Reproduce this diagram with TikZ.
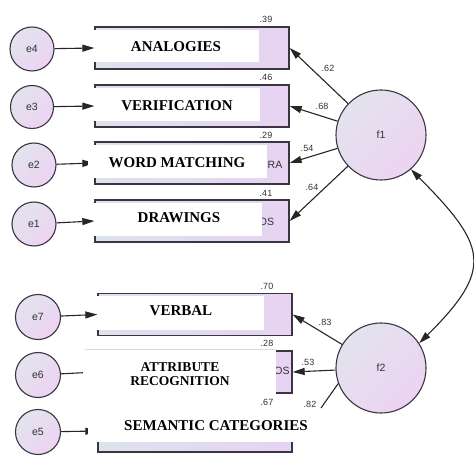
\documentclass[tikz,border=0pt]{standalone}
\usepackage{fontspec}
\setmainfont{Liberation Serif}
\newfontfamily\arialf{Liberation Sans}
\usetikzlibrary{arrows.meta}
\definecolor{circL}{HTML}{E2E3EE}
\definecolor{circR}{HTML}{EDD3F2}
\definecolor{boxL}{HTML}{DCE3EC}
\definecolor{boxR}{HTML}{E7D3F2}
\definecolor{edgec}{HTML}{3A3540}
\definecolor{numc}{HTML}{333333}
\begin{document}
\begin{tikzpicture}[x=1pt,y=-1pt,
  lat/.style={circle,draw=edgec,line width=1.1pt,left color=circL,right color=circR,shading angle=45,inner sep=0pt,minimum size=#1,font=\arialf\fontsize{10.5}{11}\selectfont,text=numc},
  obs/.style={rectangle,draw=edgec,line width=1.3pt,left color=boxL,right color=boxR,minimum width=194pt,minimum height=42pt,inner sep=0pt},
  lbl/.style={font=\bfseries\fontsize{15}{15}\selectfont,inner sep=0pt},
  lbls/.style={font=\bfseries\fontsize{13.5}{15}\selectfont,inner sep=0pt,align=center},
  num/.style={font=\arialf\fontsize{9}{9}\selectfont,text=numc,inner sep=0pt},
  frag/.style={font=\arialf\fontsize{10.5}{10.5}\selectfont,text=numc,inner sep=0pt},
  arr/.style={-{Triangle[length=12pt,width=7pt]},line width=1.1pt,draw=black!85},
  arr2/.style={{Triangle[length=12pt,width=7pt]}-{Triangle[length=12pt,width=7pt]},line width=1.1pt,draw=black!85},
  wpanel/.style={fill=white}]
\fill[white] (0,0) rectangle (474,462);
\useasboundingbox (0,0) rectangle (474,462);

% observed boxes
\node[obs] (b1) at (192,48) {};
\node[obs] (b2) at (192,106) {};
\node[obs] (b3) at (192,163) {};
\node[obs] (b4) at (192,221) {};
\node[obs] (b5) at (195,314.5) {};
\node[obs] (b6) at (195,372) {};
\node[obs] (b7) at (195,431) {};

% fragments of original labels
\node[frag] (r3) at (275,165) {RA};
\node[frag] (r4) at (266.5,222) {OS};
\node[frag] (r6) at (282,371) {OS};

% latent circles
\node[lat=44pt] (e4) at (32,49) {e4};
\node[lat=43pt] (e3) at (32,107) {e3};
\node[lat=44pt] (e2) at (34,165) {e2};
\node[lat=44pt] (e1) at (34,224) {e1};
\node[lat=45pt] (e7) at (38,317) {e7};
\node[lat=45pt] (e6) at (38,375) {e6};
\node[lat=45pt] (e5) at (38,432) {e5};
\node[lat=90pt] (f1) at (381,135) {f1};
\node[lat=90pt] (f2) at (381,368) {f2};

% arrows partly hidden by the pasted panels
\draw[arr] (e2) -- (b3.west);
\draw[arr] (e6) -- (b6.west);
\draw[arr] (e5) -- (b7.west);
\coordinate (c82) at (321,408);
\draw[line width=1.1pt,draw=black!85] (f2.200) -- (c82);

% white panels pasted over the boxes
\fill[wpanel] (94,30) rectangle (259,62.5);
\fill[wpanel] (94,88) rectangle (260,121);
\fill[wpanel] (88,145) rectangle (267,178);
\fill[wpanel] (94,203) rectangle (262,236);
\fill[wpanel] (97,296) rectangle (264,330);
\fill[wpanel] (83,348) rectangle (276,407);
\fill[wpanel] (88,407) rectangle (318,442);
\draw[black!14,line width=0.6pt] (85,349.5) -- (276,349.5);

% arrows from error terms
\draw[arr] (e4) -- (b1.west);
\draw[arr] (e3) -- (b2.west);
\draw[arr] (e1) -- (b4.west);
\draw[arr] (e7) -- (b5.west);

% labels
\node[lbl] (t1) at (176,47) {ANALOGIES};
\node[lbl] (t2) at (177,106) {VERIFICATION};
\node[lbl] (t3) at (177,163) {WORD MATCHING};
\node[lbl] (t4) at (179,218) {DRAWINGS};
\node[lbl] (t5) at (181,311) {VERBAL};
\node[lbls] (t6) at (180,374) {ATTRIBUTE\\[-1.5pt]RECOGNITION};
\node[lbl] (t7) at (216,426) {SEMANTIC CATEGORIES};

% loadings
\draw[arr] (f1) -- (b1.east);
\draw[arr] (f1) -- (b2.east);
\draw[arr] (f1) -- (b3.east);
\draw[arr] (f1) -- (b4.east);
\draw[arr] (f2) -- (b5.east);
\draw[arr] (f2) -- (b6.east);
\draw[arr2] (f1.-49) .. controls (487,246) and (494,269) .. (f2.33);

% numbers
\node[num] (n1) at (266,19) {.39};
\node[num] (n2) at (266,77) {.46};
\node[num] (n3) at (266,135) {.29};
\node[num] (n4) at (266,193) {.41};
\node[num] (n5) at (267,286) {.70};
\node[num] (n6) at (267,343) {.28};
\node[num] (n7) at (267,402) {.67};
\node[num] (n8) at (310,404) {.82};
\node[num] (l1) at (328,68) {.62};
\node[num] (l2) at (322,106) {.68};
\node[num] (l3) at (307,148) {.54};
\node[num] (l4) at (312,187) {.64};
\node[num] (l5) at (325,322) {.83};
\node[num] (l6) at (308,362) {.53};
\end{tikzpicture}
\end{document}
